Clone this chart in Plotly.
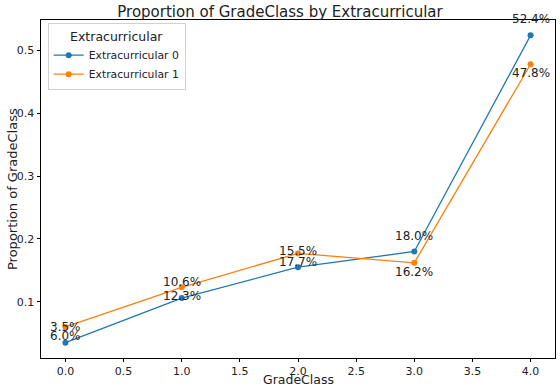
import plotly.graph_objects as go

grade_class = [0, 1, 2, 3, 4]
extra0 = [0.035, 0.106, 0.155, 0.180, 0.524]
extra1 = [0.060, 0.123, 0.177, 0.162, 0.478]
series_names = ["Extracurricular 0", "Extracurricular 1"]
colors = ["#1f77b4", "#ff7f0e"]
x_ticks = [0, 0.5, 1, 1.5, 2, 2.5, 3, 3.5, 4]
y_ticks = [0.1, 0.2, 0.3, 0.4, 0.5]

FONT = "DejaVu Sans, sans-serif"
W, H = 560, 389
ML, MR, MT, MB = 41, 5, 20, 31
plot_h = H - MT - MB
plot_w = W - ML - MR

fig = go.Figure()
for name, vals, c in zip(series_names, [extra0, extra1], colors):
    fig.add_trace(go.Scatter(x=grade_class, y=vals, mode="lines+markers", name=name,
                             line=dict(color=c, width=1.3), marker=dict(color=c, size=6)))

annotations = []
for xv, v in zip(grade_class, extra0):
    annotations.append(dict(x=xv, y=v, text=f"{v*100:.1f}%", showarrow=False,
                            yshift=16, font=dict(size=12, color="#222", family=FONT)))
for xv, v in zip(grade_class, extra1):
    annotations.append(dict(x=xv, y=v, text=f"{v*100:.1f}%", showarrow=False,
                            yshift=-9, font=dict(size=12, color="#222", family=FONT)))
annotations.append(dict(x=0.5, y=-31 / plot_h, xref="paper", yref="paper", yanchor="bottom",
                        text="GradeClass", showarrow=False, font=dict(size=12.5, family=FONT)))
annotations.append(dict(x=-29 / plot_w, y=0.5, xref="paper", yref="paper", xanchor="center",
                        showarrow=False, text="Proportion of GradeClass", textangle=-90,
                        font=dict(size=13, family=FONT)))

fig.update_layout(
    width=W, height=H,
    margin=dict(l=ML, r=MR, t=MT, b=MB, autoexpand=False),
    paper_bgcolor="white", plot_bgcolor="white",
    font=dict(family=FONT, color="#222"),
    title=dict(text="Proportion of GradeClass by Extracurricular", x=0.5, xanchor="center",
               y=1 - 11.5 / H, yanchor="middle", yref="container", font=dict(size=15)),
    annotations=annotations,
    showlegend=True,
    legend=dict(x=0.013, y=0.99, xanchor="left", yanchor="top",
                bordercolor="#d0d0d0", borderwidth=1, bgcolor="rgba(255,255,255,0.8)",
                title=dict(text="Extracurricular", font=dict(size=12.5), side="top center"),
                font=dict(size=10.8), tracegroupgap=0, itemwidth=30),
    xaxis=dict(range=[-0.21, 4.21], tickvals=x_ticks, ticktext=[f"{t:.1f}" for t in x_ticks],
               showgrid=False, zeroline=False, showline=True, linecolor="black", linewidth=1,
               mirror=True, ticks="outside", ticklen=3, tickcolor="black",
               tickfont=dict(size=11), automargin=False),
    yaxis=dict(range=[0.01055, 0.5484], tickvals=y_ticks, ticktext=[f"{t:.1f}" for t in y_ticks],
               showgrid=False, zeroline=False, showline=True, linecolor="black", linewidth=1,
               mirror=True, ticks="outside", ticklen=3.5, tickcolor="black",
               tickfont=dict(size=11), automargin=False),
)
fig.write_html("out.html", config={"displayModeBar": False},
               post_script="document.body.style.margin='0';document.body.style.padding='0';")
